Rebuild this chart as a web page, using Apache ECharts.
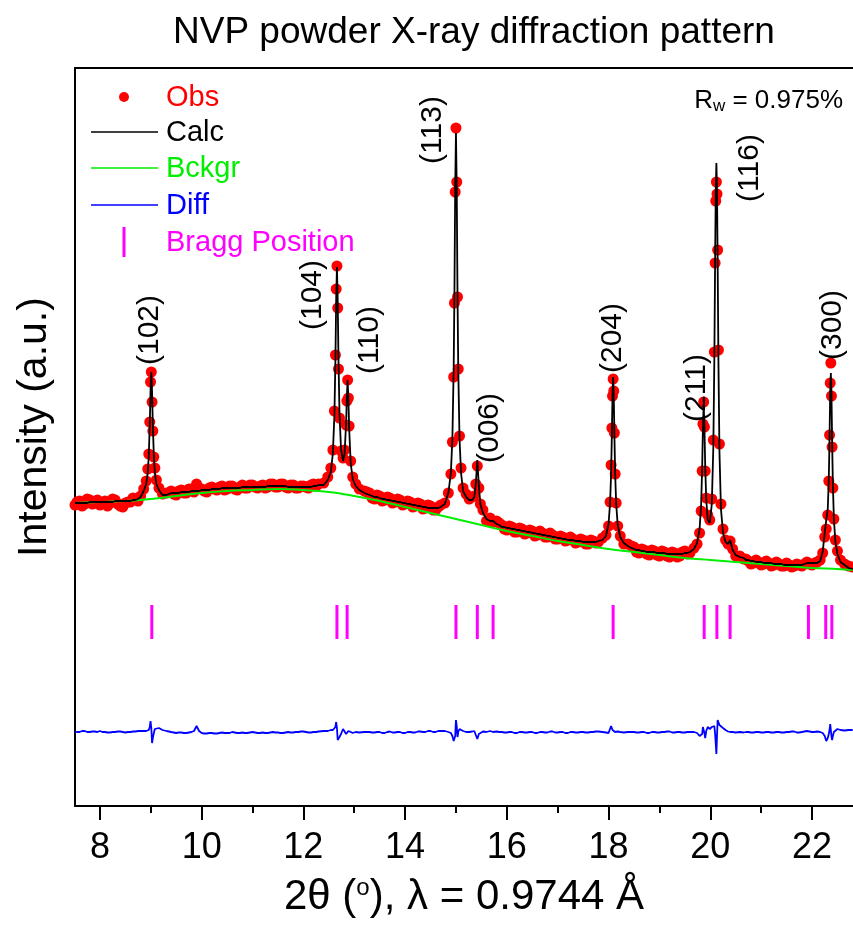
<!DOCTYPE html>
<html>
<head>
<meta charset="utf-8">
<script src="https://cdn.jsdelivr.net/npm/echarts@6/dist/echarts.min.js"></script>
<style>
  html, body { margin: 0; padding: 0; background: #fff; }
  #chart { width: 853px; height: 926px; }
</style>
</head>
<body>
<div id="chart"></div>
<script>
// 2theta grid (deg), denser around the reflections
const twoTheta = [
  7.51, 7.55, 7.6, 7.65, 7.7, 7.75, 7.8, 7.85, 7.9, 7.95, 8.0, 8.05, 8.1, 8.15, 8.2, 8.25, 8.3, 8.35, 8.4, 8.45, 8.5, 8.55, 8.6, 8.65, 8.7, 8.75, 8.8,
  8.86, 8.91, 8.94, 8.96, 8.98, 8.995, 9.01, 9.025, 9.04, 9.06, 9.08, 9.11, 9.16, 9.23, 9.31,
  9.4, 9.45, 9.5, 9.55, 9.6, 9.65, 9.7, 9.75, 9.8, 9.85, 9.9, 9.95,
  10.0, 10.05, 10.1, 10.15, 10.2, 10.25, 10.3, 10.35, 10.4, 10.45, 10.5, 10.55, 10.6, 10.65, 10.7, 10.75, 10.8, 10.85, 10.9, 10.95,
  11.0, 11.05, 11.1, 11.15, 11.2, 11.25, 11.3, 11.35, 11.4, 11.45, 11.5, 11.55, 11.6, 11.65, 11.7, 11.75, 11.8, 11.85, 11.9, 11.95,
  12.0, 12.05, 12.1, 12.15, 12.2, 12.25, 12.3,
  12.4, 12.48, 12.54, 12.58, 12.61, 12.63, 12.645, 12.66, 12.675, 12.69, 12.71, 12.74, 12.78, 12.81, 12.84, 12.855, 12.87, 12.885, 12.9, 12.93, 12.97, 13.03, 13.1, 13.2,
  13.25, 13.3, 13.35, 13.4, 13.45, 13.5, 13.55, 13.6, 13.65, 13.7, 13.75, 13.8, 13.85, 13.9, 13.95, 14.0, 14.05, 14.1, 14.15, 14.2, 14.25, 14.3, 14.35, 14.4, 14.45, 14.5, 14.55, 14.6, 14.65, 14.7,
  14.78, 14.85, 14.9, 14.93, 14.955, 14.97, 14.985, 15.0, 15.015, 15.03, 15.045, 15.07, 15.1, 15.14, 15.2, 15.26, 15.32, 15.36, 15.39, 15.42, 15.45, 15.48, 15.53, 15.6, 15.67, 15.73, 15.8,
  15.85, 15.9, 15.95, 16.0, 16.05, 16.1, 16.15, 16.2, 16.25, 16.3, 16.35, 16.4, 16.45, 16.5, 16.55, 16.6, 16.65, 16.7, 16.75, 16.8,
  16.85, 16.9, 16.95, 17.0, 17.05, 17.1, 17.15, 17.2, 17.25, 17.3, 17.35, 17.4, 17.45, 17.5, 17.55, 17.6, 17.65, 17.7, 17.75, 17.8,
  17.88, 17.95, 18.0, 18.03, 18.05, 18.065, 18.078, 18.09, 18.102, 18.115, 18.13, 18.15, 18.18, 18.23, 18.3, 18.38,
  18.45, 18.5, 18.55, 18.6, 18.65, 18.7, 18.75, 18.8, 18.85, 18.9, 18.95, 19.0, 19.05, 19.1, 19.15, 19.2, 19.25, 19.3, 19.35, 19.4, 19.45, 19.5, 19.55, 19.6,
  19.68, 19.74, 19.79, 19.82, 19.84, 19.855, 19.87, 19.885, 19.9, 19.92, 19.95, 19.99, 20.03, 20.06, 20.08, 20.095, 20.108, 20.12, 20.132, 20.145, 20.16, 20.18, 20.21, 20.25, 20.3, 20.35, 20.39, 20.44, 20.5, 20.58, 20.66,
  20.7, 20.75, 20.8, 20.85, 20.9, 20.95, 21.0, 21.05, 21.1, 21.15, 21.2, 21.25, 21.3, 21.35, 21.4, 21.45, 21.5, 21.55, 21.6, 21.65, 21.7, 21.75, 21.8, 21.85, 21.9, 21.95, 22.0, 22.05, 22.1,
  22.16, 22.21, 22.25, 22.28, 22.31, 22.33, 22.345, 22.358, 22.37, 22.382, 22.395, 22.41, 22.43, 22.46, 22.5, 22.56, 22.64, 22.72, 22.8
];

const obsI = [
  301, 304, 305, 300, 302, 307, 306, 302, 303, 306, 301, 303, 305, 300, 303, 307, 306, 302, 300, 299, 303, 304, 304, 308, 307, 305, 310,
  317, 325, 337, 352, 384, 424, 434, 404, 375, 349, 338, 326, 318, 312, 313,
  315, 312, 311, 315, 316, 313, 313, 317, 317, 314, 322, 318,
  317, 315, 314, 318, 319, 317, 316, 319, 320, 316, 317, 320, 320, 317, 316, 319, 321, 318, 318, 321,
  321, 319, 318, 320, 321, 318, 319, 322, 322, 319, 319, 322, 322, 319, 318, 321, 321, 318, 318, 320,
  320, 319, 318, 321, 322, 320, 322,
  323, 329, 338, 356, 395, 451, 517, 540, 498, 437, 388, 355, 348, 356, 381, 405, 426, 408, 380, 345, 329, 322, 317, 315,
  314, 313, 308, 307, 311, 310, 305, 306, 309, 308, 303, 304, 307, 306, 301, 302, 305, 304, 299, 300, 303, 302, 297, 298, 301, 300, 296, 296, 299, 301,
  303, 313, 332, 364, 429, 503, 614, 678, 624, 509, 437, 370, 338, 318, 312, 307, 309, 310, 322, 340, 318, 302, 296, 285, 288, 284, 285,
  283, 281, 277, 276, 280, 279, 274, 274, 278, 277, 272, 273, 276, 275, 270, 271, 275, 273, 269, 269,
  273, 271, 267, 267, 270, 269, 265, 266, 269, 267, 263, 264, 267, 266, 262, 262, 266, 265, 263, 264,
  268, 271, 280, 304, 341, 378, 410, 427, 415, 373, 332, 303, 280, 270, 262, 262,
  260, 259, 254, 253, 257, 256, 252, 251, 256, 255, 251, 250, 255, 254, 250, 249, 254, 253, 249, 250, 254, 255, 252, 253,
  258, 262, 273, 295, 335, 382, 404, 379, 335, 308, 291, 286, 307, 366, 454, 543, 605, 624, 612, 556, 456, 362, 302, 277, 266, 262, 265, 257, 250, 250, 247,
  247, 245, 242, 243, 246, 244, 241, 242, 245, 243, 240, 241, 244, 242, 240, 240, 243, 241, 239, 240, 242, 241, 240, 242, 244, 242, 241, 243, 244,
  246, 253, 269, 277, 291, 325, 371, 423, 443, 410, 359, 318, 287, 266, 255, 246, 242, 240, 239
];

const calcI = [
  303, 303, 303, 303, 303, 303, 304, 304, 304, 304, 304, 304, 304, 304, 304, 304, 305, 305, 305, 305, 305, 305, 305, 306, 306, 307, 309,
  315, 322, 333, 350, 381, 415, 434, 415, 381, 350, 333, 322, 316, 311, 311,
  313, 313, 313, 313, 314, 314, 314, 314, 315, 315, 315, 315,
  316, 316, 316, 316, 317, 317, 317, 317, 318, 318, 318, 318, 318, 318, 318, 318, 319, 319, 319, 319,
  319, 319, 319, 319, 319, 319, 320, 320, 320, 320, 320, 320, 320, 320, 319, 319, 319, 319, 319, 319,
  319, 319, 319, 319, 320, 320, 321,
  321, 326, 334, 353, 391, 446, 507, 539, 506, 447, 393, 357, 345, 352, 383, 409, 426, 407, 378, 343, 327, 320, 316, 313,
  312, 311, 310, 309, 309, 308, 307, 307, 306, 306, 305, 305, 304, 304, 303, 303, 302, 302, 301, 301, 300, 300, 299, 299, 298, 298, 298, 298, 298, 299,
  302, 313, 333, 368, 438, 514, 618, 673, 618, 514, 437, 367, 333, 315, 309, 306, 306, 309, 322, 346, 320, 302, 293, 287, 285, 285, 282,
  281, 279, 279, 278, 278, 277, 277, 276, 276, 275, 275, 274, 274, 273, 273, 272, 272, 271, 271, 270,
  270, 269, 269, 268, 268, 267, 267, 266, 266, 266, 265, 265, 265, 264, 264, 264, 264, 264, 264, 265,
  266, 270, 282, 303, 332, 371, 412, 429, 412, 371, 332, 302, 281, 269, 263, 260,
  258, 257, 256, 256, 255, 255, 254, 254, 254, 254, 253, 253, 253, 253, 252, 252, 252, 252, 252, 252, 252, 253, 253, 254,
  257, 263, 277, 301, 337, 377, 401, 380, 341, 307, 286, 283, 302, 359, 448, 545, 616, 643, 616, 544, 446, 355, 297, 273, 264, 262, 266, 256, 251, 249, 248,
  246, 246, 245, 245, 244, 244, 244, 243, 243, 243, 243, 242, 242, 242, 242, 241, 241, 241, 241, 241, 241, 241, 241, 242, 243, 243, 243, 243, 243,
  245, 254, 273, 286, 297, 327, 369, 415, 433, 414, 367, 322, 287, 264, 252, 244, 241, 238, 237
];

const diffI = [
  74.5, 74, 74, 75, 75, 74, 74, 74.5, 74.5, 74, 75, 74, 74, 73.5, 73.5, 74, 74, 74.5, 74.5, 74, 73.5, 74, 74, 74.5, 74.5, 75, 75,
  75, 75, 76, 76, 79, 85, 78, 63, 68, 73, 77, 79, 78, 76, 75,
  74, 73.5, 73, 73.5, 73.5, 73, 73, 73.5, 74, 75, 80, 75,
  73, 72.5, 72.5, 73, 73, 72.5, 72.5, 73, 73.5, 73, 73, 73, 74, 73.5, 73, 73, 73.5, 73, 73, 73.5,
  74, 73.5, 73, 73, 73.5, 73, 73, 73.5, 74, 73.5, 73.5, 73, 73, 73.5, 74, 73.5, 73.5, 74, 74, 74.5,
  74.5, 74, 73.5, 73.5, 74, 74, 74.5,
  75, 75, 76, 76, 78, 79, 84, 78, 66, 64, 69, 72, 77, 78, 72, 70, 74, 75, 73, 74, 73, 74, 73.5, 74,
  74, 74, 73.5, 73.5, 74, 74, 73, 73, 74, 74.5, 73.5, 73.5, 74, 74, 73, 73, 74, 74, 73.5, 73.5, 74.5, 74.5, 74, 74, 75, 75, 74, 74, 75, 75,
  75, 74, 73, 70, 65, 63, 70, 86, 80, 69, 74, 77, 78, 75, 74, 74, 74.5, 75, 73, 67, 72, 74, 74.5, 74, 75, 74, 74.5,
  74, 74, 73.5, 73.5, 74, 74, 73, 73, 74, 74, 73.5, 73.5, 74, 74, 73, 73, 74, 74, 73.5, 73.5,
  74.5, 74.5, 73.5, 73.5, 74, 74, 73, 73, 74, 74, 73.5, 73.5, 74, 74, 73.5, 73.5, 74, 74, 74.5, 74.5,
  74, 73.5, 73, 75, 80, 78, 76, 75, 77, 76, 74, 75, 74.5, 74, 73.5, 74,
  74, 74, 73.5, 73.5, 74, 74, 73, 73, 74, 74, 73.5, 73.5, 74, 74, 74.5, 74.5, 73.5, 73.5, 74, 74, 73.5, 73.5, 74, 74,
  74, 73, 70, 68, 72, 79, 77, 73, 68, 75, 79, 77, 79, 81, 80, 72, 62, 52, 70, 86, 84, 81, 79, 78, 76, 74.5, 74, 74, 73.5, 74, 73.5,
  74, 74, 73.5, 73.5, 74, 74, 73.5, 73.5, 74, 74, 73.5, 73.5, 74, 74, 73.5, 73.5, 74, 74, 74.5, 74.5, 73.5, 73.5, 74, 74.5, 75, 74.5, 74, 74, 74.5,
  74, 73, 70, 65, 68, 72, 76, 82, 80, 70, 66, 70, 74, 76, 77, 76, 75.5, 76, 76
];

// background curve
const bgTheta = [7.51, 8.0, 8.5, 9.0, 9.5, 10.0, 10.5, 11.0, 11.5, 12.0, 12.5, 13.0, 13.5, 14.0, 14.5, 15.0, 15.5, 16.0, 16.5, 17.0, 17.5, 18.0, 18.5, 19.0, 19.5, 20.0, 20.5, 21.0, 21.5, 22.0, 22.5, 22.8];
const bgI = [303, 304, 305, 307, 310, 313, 315, 316, 317, 316, 314, 310, 305, 299, 293, 287, 281, 275, 270, 265, 261, 257, 254, 251, 248, 246, 244, 242, 240, 238, 237, 236];

// Bragg reflection positions
const braggPos = [9.02, 12.66, 12.86, 15.0, 15.42, 15.73, 18.09, 19.88, 20.13, 20.39, 21.93, 22.27, 22.39];

// hkl labels
const hklText = ['(102)', '(104)', '(110)', '(113)', '(006)', '(204)', '(211)', '(116)', '(300)'];
const hklTheta = [8.98, 12.19, 13.31, 14.55, 15.67, 18.09, 19.74, 20.78, 22.41];
const hklI = [476, 511, 466, 676, 378, 468, 418, 638, 481];

const xTicks = [8, 10, 12, 14, 16, 18, 20, 22];
const xMinorTicks = [9, 11, 13, 15, 17, 19, 21];

const FONT = 'Liberation Sans, Arial, sans-serif';
const chart = echarts.init(document.getElementById('chart'));

const xRange = { min: 7.51, max: 22.806 };

chart.setOption({
  animation: false,
  title: {
    text: 'NVP powder X-ray diffraction pattern',
    left: 168,
    top: 9,
    textStyle: { fontFamily: FONT, fontSize: 37, fontWeight: 'normal', color: '#000' }
  },
  grid: { left: 75, right: 0, top: 68, bottom: 120 },
  xAxis: [
    {
      type: 'value', ...xRange,
      name: '2θ ({s|o}), λ = 0.9744 Å',
      nameLocation: 'middle',
      nameGap: 70,
      nameTextStyle: {
        fontFamily: FONT, fontSize: 42, color: '#000',
        rich: { s: { fontFamily: FONT, fontSize: 24, verticalAlign: 'top', padding: [0, 0, 16, 0] } }
      },
      axisLine: { show: true, onZero: false, lineStyle: { color: '#000', width: 2 } },
      axisTick: { show: true, inside: false, length: 14, customValues: xTicks, lineStyle: { color: '#000', width: 2 } },
      axisLabel: { show: true, customValues: xTicks, margin: 24, fontFamily: FONT, fontSize: 36, color: '#000' },
      splitLine: { show: false }
    },
    {
      type: 'value', ...xRange,
      position: 'bottom',
      axisLine: { show: false },
      axisTick: { show: true, length: 7, customValues: xMinorTicks, lineStyle: { color: '#000', width: 2 } },
      axisLabel: { show: false },
      splitLine: { show: false }
    },
    {
      type: 'value', ...xRange,
      position: 'top',
      axisLine: { show: true, onZero: false, lineStyle: { color: '#000', width: 2 } },
      axisTick: { show: false },
      axisLabel: { show: false },
      splitLine: { show: false }
    }
  ],
  yAxis: {
    type: 'value',
    min: 0,
    max: 738,
    name: 'Intensity (a.u.)',
    nameLocation: 'middle',
    nameGap: 20,
    nameTextStyle: { fontFamily: FONT, fontSize: 41, color: '#000', padding: [0, 0, 0, 20] },
    axisLine: { show: true, onZero: false, lineStyle: { color: '#000', width: 2 } },
    axisTick: { show: false },
    axisLabel: { show: false },
    splitLine: { show: false }
  },
  series: [
    {
      name: 'Obs',
      type: 'scatter',
      data: twoTheta.map((t, i) => [t, obsI[i]]),
      symbol: 'circle',
      symbolSize: 11,
      itemStyle: { color: '#ff0000', opacity: 1 },
      z: 2
    },
    {
      name: 'Bckgr',
      type: 'line',
      data: bgTheta.map((t, i) => [t, bgI[i]]),
      smooth: 0.4,
      showSymbol: false,
      lineStyle: { color: '#00ee00', width: 2 },
      z: 3
    },
    {
      name: 'Calc',
      type: 'line',
      data: twoTheta.map((t, i) => [t, calcI[i]]),
      showSymbol: false,
      lineStyle: { color: '#000', width: 1.8 },
      z: 4
    },
    {
      name: 'Diff',
      type: 'line',
      data: twoTheta.map((t, i) => [t, diffI[i]]),
      showSymbol: false,
      lineStyle: { color: '#0000ff', width: 1.8 },
      z: 4
    },
    {
      name: 'Bragg Position',
      type: 'scatter',
      data: braggPos.map((p) => [p, 184]),
      symbol: 'rect',
      symbolSize: [3, 34],
      itemStyle: { color: '#ff00ff', opacity: 1 },
      z: 3
    },
    {
      name: 'hkl',
      type: 'scatter',
      data: hklTheta.map((t, i) => ({ value: [t, hklI[i]], label: { formatter: hklText[i] } })),
      symbolSize: 0,
      itemStyle: { opacity: 1 },
      label: {
        show: true,
        position: 'inside',
        rotate: 90,
        fontFamily: FONT,
        fontSize: 30,
        color: '#000',
        opacity: 1
      },
      z: 5
    }
  ],
  graphic: [
    { type: 'circle', shape: { cx: 124, cy: 97, r: 5 }, style: { fill: '#ff0000' } },
    { type: 'line', shape: { x1: 91, y1: 132, x2: 158, y2: 132 }, style: { stroke: '#000', lineWidth: 1.6 } },
    { type: 'line', shape: { x1: 91, y1: 168, x2: 158, y2: 168 }, style: { stroke: '#00ee00', lineWidth: 1.6 } },
    { type: 'line', shape: { x1: 91, y1: 205, x2: 158, y2: 205 }, style: { stroke: '#0000ff', lineWidth: 1.6 } },
    { type: 'line', shape: { x1: 124, y1: 227, x2: 124, y2: 257 }, style: { stroke: '#ff00ff', lineWidth: 3 } },
    { type: 'text', left: 166, top: 83, style: { text: 'Obs', fill: '#ff0000', font: '29px ' + FONT } },
    { type: 'text', left: 166, top: 118, style: { text: 'Calc', fill: '#000', font: '29px ' + FONT } },
    { type: 'text', left: 166, top: 154, style: { text: 'Bckgr', fill: '#00ee00', font: '29px ' + FONT } },
    { type: 'text', left: 166, top: 191, style: { text: 'Diff', fill: '#0000ff', font: '29px ' + FONT } },
    { type: 'text', left: 166, top: 228, style: { text: 'Bragg Position', fill: '#ff00ff', font: '29px ' + FONT } },
    {
      type: 'text', right: 10, top: 88,
      style: {
        text: 'R{w|w} = 0.975%',
        fill: '#000',
        font: '26px ' + FONT,
        rich: { w: { fontSize: 17, fontFamily: FONT, verticalAlign: 'bottom', padding: [10, 0, 0, 0] } }
      }
    }
  ]
});
</script>
</body>
</html>
